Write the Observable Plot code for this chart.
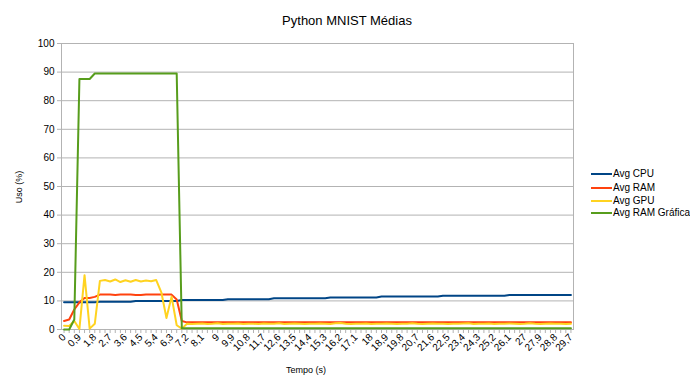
<!DOCTYPE html>
<html><head><meta charset="utf-8">
<script src="https://cdn.jsdelivr.net/npm/d3@7"></script>
<script src="https://cdn.jsdelivr.net/npm/@observablehq/plot@0.6"></script>
<style>
body{margin:0;background:#fff;}
#wrap{position:relative;width:690px;height:388px;font-family:"Liberation Sans",Arial,sans-serif;color:#000;}
.abs{position:absolute;white-space:nowrap;line-height:1;}
</style></head><body><div id="wrap"></div>
<script>
const times = [0,0.3,0.6,0.9,1.2,1.5,1.8,2.1,2.4,2.7,3,3.3,3.6,3.9,4.2,4.5,4.8,5.1,5.4,5.7,6,6.3,6.6,6.9,7.2,7.5,7.8,8.1,8.4,8.7,9,9.3,9.6,9.9,10.2,10.5,10.8,11.1,11.4,11.7,12,12.3,12.6,12.9,13.2,13.5,13.8,14.1,14.4,14.7,15,15.3,15.6,15.9,16.2,16.5,16.8,17.1,17.4,17.7,18,18.3,18.6,18.9,19.2,19.5,19.8,20.1,20.4,20.7,21,21.3,21.6,21.9,22.2,22.5,22.8,23.1,23.4,23.7,24,24.3,24.6,24.9,25.2,25.5,25.8,26.1,26.4,26.7,27,27.3,27.6,27.9,28.2,28.5,28.8,29.1,29.4,29.7];

const avgCpu = [9.5,9.5,9.5,9.5,9.5,9.5,9.5,
 9.7,9.7,9.7,9.7,9.7,9.7,9.7,
 10,10,10,10,10,10,10,10,10,
 10.3,10.3,10.3,10.3,10.3,10.3,10.3,10.3,10.3,
 10.6,10.6,10.6,10.6,10.6,10.6,10.6,10.6,10.6,
 10.9,10.9,10.9,10.9,10.9,10.9,10.9,10.9,10.9,10.9,10.9,
 11.2,11.2,11.2,11.2,11.2,11.2,11.2,11.2,11.2,11.2,
 11.5,11.5,11.5,11.5,11.5,11.5,11.5,11.5,11.5,11.5,11.5,11.5,
 11.8,11.8,11.8,11.8,11.8,11.8,11.8,11.8,11.8,11.8,11.8,11.8,11.8,
 12.1,12.1,12.1,12.1,12.1,12.1,12.1,12.1,12.1,12.1,12.1,12.1,12.1];

const avgRam = [3.0,3.5,7.0,9.5,11.0,11.0,11.4,12.2,
 12.2,12.2,12.1,12.2,12.2,12.2,12.1,12.1,12.2,12.2,12.2,12.2,12.2,12.2,
 10.5,3.0,
 2.5,2.5,2.5,2.5,2.5,2.5,2.5,2.5,2.5,2.5,
 2.5,2.5,2.5,2.5,2.5,2.5,2.5,2.5,2.5,2.5,
 2.5,2.5,2.5,2.5,2.5,2.5,2.5,2.5,2.5,2.5,
 2.5,2.5,2.5,2.5,2.5,2.5,2.5,2.5,2.5,2.5,
 2.5,2.5,2.5,2.5,2.5,2.5,2.5,2.5,2.5,2.5,
 2.5,2.5,2.5,2.5,2.5,2.5,2.5,2.5,2.5,2.5,
 2.5,2.5,2.5,2.5,2.5,2.5,2.5,2.5,2.5,2.5,
 2.5,2.5,2.5,2.5,2.5,2.5];

const avgGpu = [1.3,1.2,3.0,0.2,19.0,0.3,2.0,17.0,17.3,16.8,17.5,16.6,17.2,16.7,17.3,16.8,17.1,16.9,17.3,13.0,4.0,11.5,1.5,0.3,
 2.0,1.9,2.0,2.1,1.9,2.0,2.2,1.9,2.0,2.0,
 2.1,1.9,2.0,2.0,1.9,2.1,2.0,2.0,2.2,1.9,
 2.0,2.1,2.0,1.9,2.0,2.0,2.1,2.0,1.9,2.2,
 2.3,2.0,1.9,2.0,2.0,2.1,1.9,2.0,2.0,2.1,
 2.0,1.9,2.0,2.0,2.2,2.0,1.9,2.0,2.1,2.0,
 2.0,1.9,2.0,2.0,2.1,2.2,1.9,2.0,2.0,2.1,
 1.9,2.0,2.0,2.1,2.0,1.9,2.0,2.2,2.0,1.9,
 2.0,2.1,2.0,2.0,1.9,2.0];

const avgGram = [0,0,3.5,87.6,87.6,87.6,89.5,
 89.5,89.5,89.5,89.5,89.5,89.5,89.5,89.5,89.5,89.5,89.5,89.5,89.5,89.5,89.5,89.5,
 0.4,0.4,0.4,0.4,0.4,0.4,0.4,0.4,0.4,0.4,
 0.4,0.4,0.4,0.4,0.4,0.4,0.4,0.4,0.4,0.4,
 0.4,0.4,0.4,0.4,0.4,0.4,0.4,0.4,0.4,0.4,
 0.4,0.4,0.4,0.4,0.4,0.4,0.4,0.4,0.4,0.4,
 0.4,0.4,0.4,0.4,0.4,0.4,0.4,0.4,0.4,0.4,
 0.4,0.4,0.4,0.4,0.4,0.4,0.4,0.4,0.4,0.4,
 0.4,0.4,0.4,0.4,0.4,0.4,0.4,0.4,0.4,0.4,
 0.4,0.4,0.4,0.4,0.4,0.4,0.4];

const seriesNames = ["Avg CPU","Avg RAM","Avg GPU","Avg RAM Gráfica"];
const seriesColors = ["#004586","#ff420e","#ffd320","#579d1c"];
const yTicks = [0,10,20,30,40,50,60,70,80,90,100];
const titleText = "Python MNIST Médias";
const xTitle = "Tempo (s)";
const yTitle = "Uso (%)";

const allSeries = [avgCpu, avgRam, avgGpu, avgGram];
const rows = [];
allSeries.forEach((s, k) => times.forEach((t, i) => rows.push({t, v: s[i], series: seriesNames[k]})));

const fmt = d => String(d).replace(".", ",");
const tickLabel = d => (times.indexOf(d) % 3 === 0 ? fmt(d) : "");

const chart = Plot.plot({
  width: 690, height: 388,
  marginLeft: 61, marginRight: 117, marginTop: 43, marginBottom: 59,
  style: {fontFamily: '"Liberation Sans", Arial, sans-serif', fontSize: "10px", color: "#000", background: "transparent"},
  x: {type: "point", domain: times, padding: 0.5, round: false, align: 0.5},
  y: {domain: [0, 100]},
  color: {domain: seriesNames, range: seriesColors},
  marks: [
    Plot.gridY(yTicks, {stroke: "#b3b3b3", strokeOpacity: 1}),
    Plot.frame({stroke: "#b3b3b3"}),
    Plot.axisY(yTicks, {tickSize: 4, tickPadding: 3, stroke: "#b3b3b3", fill: "#000", label: null}),
    Plot.axisX(times, {tickSize: 4, tickPadding: 2, tickRotate: -45, tickFormat: tickLabel, stroke: "#b3b3b3", fill: "#000", label: null}),
    Plot.lineY(rows, {x: "t", y: "v", z: "series", stroke: "series", strokeWidth: 2, strokeLinejoin: "round"})
  ]
});

const wrap = document.getElementById("wrap");
wrap.appendChild(chart);
chart.style.position = "absolute"; chart.style.left = "0"; chart.style.top = "0";

function addText(txt, css) {
  const d = document.createElement("div");
  d.className = "abs"; d.textContent = txt;
  Object.assign(d.style, css);
  wrap.appendChild(d);
  return d;
}
addText(titleText, {left: "347px", top: "20px", fontSize: "13px", transform: "translate(-50%,-50%)"});
addText(xTitle, {left: "306px", top: "370px", fontSize: "9px", transform: "translate(-50%,-50%)"});
addText(yTitle, {left: "19px", top: "187px", fontSize: "9px", transform: "translate(-50%,-50%) rotate(-90deg)"});

const legendRows = [174, 188, 201, 213];
seriesNames.forEach((name, k) => {
  const ln = document.createElement("div");
  Object.assign(ln.style, {position: "absolute", left: "591px", top: (legendRows[k] - 1) + "px", width: "21px", height: "2px", background: seriesColors[k]});
  wrap.appendChild(ln);
  addText(name, {left: "613px", top: legendRows[k] + "px", fontSize: "10px", transform: "translateY(-50%)"});
});
</script></body></html>
